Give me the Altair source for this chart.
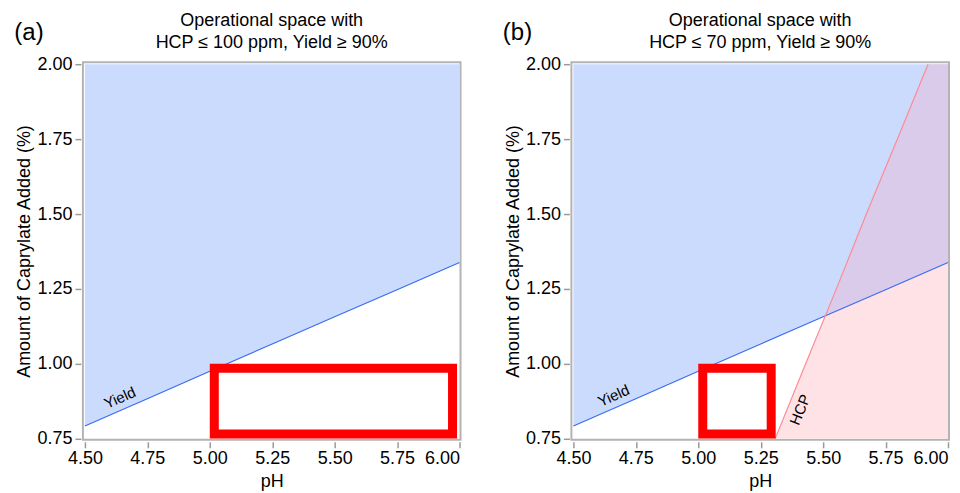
import altair as alt
import pandas as pd
import numpy as np

# ---- data ----
ph = [4.5, 4.75, 5.0, 5.25, 5.5, 5.75, 6.0]
yield_cap = [0.792, 0.883, 0.975, 1.066, 1.157, 1.247, 1.338]   # Yield = 90% boundary
hcp_cap = [0.75, 1.0, 1.25, 1.5, 1.75, 2.0]
hcp_ph = [5.308, 5.43, 5.553, 5.673, 5.797, 5.92]               # HCP = 70 ppm boundary
cap_top = 2.0
ph_right = 6.0

box_ph_a = [5.0, 5.99]
box_ph_b = [5.0, 5.31]
box_cap = [0.75, 1.0]

title_a = ["Operational space with", "HCP ≤ 100 ppm, Yield ≥ 90%"]
title_b = ["Operational space with", "HCP ≤ 70 ppm, Yield ≥ 90%"]

x_ticks = [4.5, 4.75, 5.0, 5.25, 5.5, 5.75, 6.0]
y_ticks = [0.75, 1.0, 1.25, 1.5, 1.75, 2.0]

FONT = "Liberation Sans"
BLUE_FILL = "#cbdbfd"
BLUE_LINE = "#3a6cf0"
PINK_FILL = "#ffe2e6"
PURPLE_FILL = "#d9cbe9"
PINK_LINE = "#ff8a96"

xs = alt.Scale(domain=[4.492, 6.004], nice=False, zero=False)
ys = alt.Scale(domain=[0.746, 2.007], nice=False, zero=False)


def X(field):
    return alt.X(field, type="quantitative", scale=xs, title="pH",
                 axis=alt.Axis(values=x_ticks, format=".2f"))


def Y(field):
    return alt.Y(field, type="quantitative", scale=ys,
                 title="Amount of Caprylate Added (%)",
                 axis=alt.Axis(values=y_ticks, format=".2f"))


yield_df = pd.DataFrame({"ph": ph, "cap": yield_cap, "top": cap_top})
hcp_df = pd.DataFrame({"ph": hcp_ph, "cap": hcp_cap, "right": ph_right})

# overlap of the two regions (above Yield boundary and right of HCP boundary)
_yp, _yc = np.array(ph), np.array(yield_cap)
_hp, _hc = np.array(hcp_ph), np.array(hcp_cap)
_d = np.interp(_hp, _yp, _yc) - _hc            # yield - hcp cap at hcp points
_i = np.where(np.diff(np.sign(_d)) != 0)[0][0]
_t = _d[_i] / (_d[_i] - _d[_i + 1])
x_int = _hp[_i] + _t * (_hp[_i + 1] - _hp[_i])
ov_x = [x_int] + [p for p in hcp_ph if p > x_int] + [ph_right]
ov_lo = list(np.interp(ov_x, _yp, _yc))
ov_hi = [float(np.interp(x_int, _yp, _yc))] + [c for p, c in zip(hcp_ph, hcp_cap) if p > x_int] + [cap_top]
overlap_df = pd.DataFrame({"ph": ov_x, "lo": ov_lo, "hi": ov_hi})


def panel(label, title, box_ph, with_hcp, yield_lbl, hcp_lbl=None):
    layers = []
    layers.append(
        alt.Chart(yield_df).mark_area(color=BLUE_FILL, opacity=1)
        .encode(x=X("ph"), y=Y("cap"), y2="top")
    )
    if with_hcp:
        layers.append(
            alt.Chart(hcp_df).mark_area(orient="horizontal", color=PINK_FILL, opacity=1)
            .encode(x=X("ph"), x2="right", y=Y("cap"))
        )
        layers.append(
            alt.Chart(overlap_df).mark_area(color=PURPLE_FILL, opacity=1)
            .encode(x=X("ph"), y=Y("lo"), y2="hi")
        )
    layers.append(
        alt.Chart(yield_df).mark_line(color=BLUE_LINE, strokeWidth=1.2)
        .encode(x=X("ph"), y=Y("cap"))
    )
    if with_hcp:
        layers.append(
            alt.Chart(hcp_df).mark_line(color=PINK_LINE, strokeWidth=1.2)
            .encode(x=X("ph"), y=Y("cap"), order="cap")
        )
    box_df = pd.DataFrame({"x1": [box_ph[0]], "x2": [box_ph[1]],
                           "y1": [box_cap[0]], "y2": [box_cap[1]]})
    layers.append(
        alt.Chart(box_df).mark_rect(fillOpacity=0, stroke="#ff0000", strokeWidth=9,
                                    strokeJoin="miter",
                                    xOffset=4.5, x2Offset=-4.5, yOffset=-4.5, y2Offset=4.5)
        .encode(x=X("x1"), x2="x2", y=Y("y1"), y2="y2")
    )
    lbl = pd.DataFrame({"ph": [yield_lbl[0]], "cap": [yield_lbl[1]], "t": ["Yield"]})
    layers.append(
        alt.Chart(lbl).mark_text(angle=336, font=FONT, fontSize=15, color="black")
        .encode(x=X("ph"), y=Y("cap"), text="t")
    )
    if hcp_lbl is not None:
        lbl2 = pd.DataFrame({"ph": [hcp_lbl[0]], "cap": [hcp_lbl[1]], "t": ["HCP"]})
        layers.append(
            alt.Chart(lbl2).mark_text(angle=292, font=FONT, fontSize=15, color="black")
            .encode(x=X("ph"), y=Y("cap"), text="t")
        )
    pl = pd.DataFrame({"t": [label]})
    layers.append(
        alt.Chart(pl).mark_text(font=FONT, fontSize=24, color="black", align="center",
                                baseline="middle")
        .encode(x=alt.value(-54), y=alt.value(-29), text="t")
    )
    return alt.layer(*layers).properties(
        width=378, height=378,
        title=alt.TitleParams(text=title, font=FONT, fontSize=18, fontWeight="normal",
                              color="black", anchor="middle", lineHeight=22, offset=-31),
    )


left = panel("(a)", title_a, box_ph_a, False, (4.64, 0.886))
right = panel("(b)", title_b, box_ph_b, True, (4.661, 0.893), (5.408, 0.846))

chart = (
    alt.hconcat(left, right, spacing=111, bounds="flush")
    .properties(padding={"left": 5, "top": 3, "right": 0, "bottom": 0})
    .configure_axis(domain=False, grid=False, tickColor="#9a9a9a", tickSize=6,
                    tickWidth=1.5, offset=2, labelFont=FONT, labelFontSize=18,
                    labelColor="black", titleFont=FONT, titleFontSize=18,
                    titleFontWeight="normal", titleColor="black", labelPadding=2,
                    titlePadding=5)
    .configure_axisY(labelPadding=3, titlePadding=3)
    .configure_view(stroke="#b3b3b3", strokeWidth=2)
)

chart.save("out.html", embed_options={"renderer": "svg", "actions": False})
